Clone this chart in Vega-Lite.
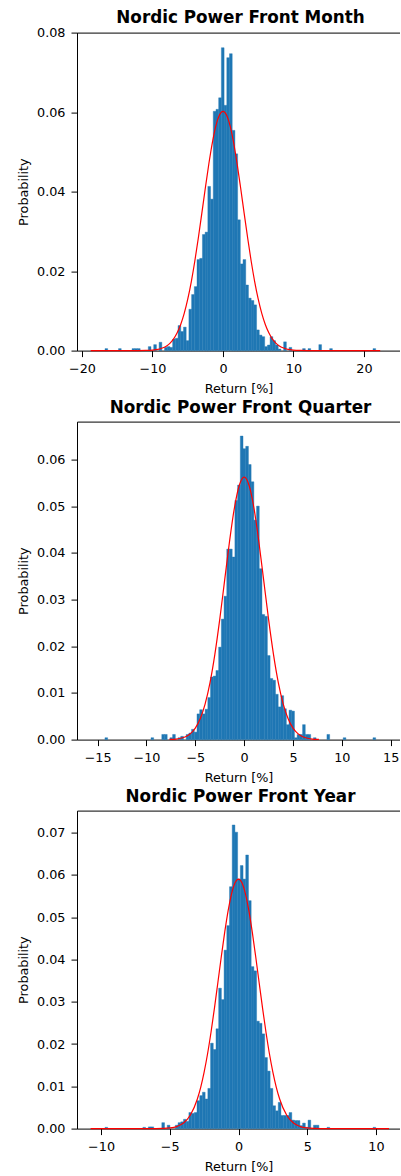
{
  "$schema": "https://vega.github.io/schema/vega-lite/v6.json",
  "padding": {"left": 17, "top": 9.6, "right": 0, "bottom": 0},
  "bounds": "flush",
  "spacing": 71,
  "config": {
    "font": "DejaVu Sans",
    "view": {"stroke": null},
    "title": {"fontSize": 16.8, "fontWeight": "bold", "font": "DejaVu Sans", "color": "black", "anchor": "middle", "frame": "group", "baseline": "alphabetic", "dx": 2},
    "axis": {"grid": false, "labelFont": "DejaVu Sans", "titleFont": "DejaVu Sans", "labelFontSize": 12.8, "titleFontSize": 12.8, "titleFontWeight": "normal", "labelColor": "black", "titleColor": "black", "domainColor": "black", "tickColor": "black", "tickSize": 6, "labelPadding": 6, "domainWidth": 1, "tickWidth": 1, "labelFlush": false, "labelOverlap": false},
    "axisX": {"titlePadding": 7.5},
    "axisY": {"titlePadding": 6}
  },
  "datasets": {
    "h1": [
      {"start": -16.740, "end": -16.356, "p": 0.0005},
      {"start": -14.820, "end": -14.436, "p": 0.0005},
      {"start": -12.900, "end": -12.516, "p": 0.0005},
      {"start": -12.516, "end": -12.132, "p": 0.0005},
      {"start": -12.132, "end": -11.748, "p": 0.0005},
      {"start": -10.596, "end": -10.212, "p": 0.0010},
      {"start": -9.828, "end": -9.444, "p": 0.0015},
      {"start": -9.060, "end": -8.676, "p": 0.0021},
      {"start": -8.292, "end": -7.908, "p": 0.0008},
      {"start": -7.908, "end": -7.524, "p": 0.0010},
      {"start": -7.524, "end": -7.140, "p": 0.0008},
      {"start": -7.140, "end": -6.756, "p": 0.0029},
      {"start": -6.756, "end": -6.372, "p": 0.0031},
      {"start": -6.372, "end": -5.988, "p": 0.0063},
      {"start": -5.988, "end": -5.604, "p": 0.0048},
      {"start": -5.604, "end": -5.220, "p": 0.0059},
      {"start": -5.220, "end": -4.836, "p": 0.0025},
      {"start": -4.836, "end": -4.452, "p": 0.0104},
      {"start": -4.452, "end": -4.068, "p": 0.0141},
      {"start": -4.068, "end": -3.684, "p": 0.0161},
      {"start": -3.684, "end": -3.300, "p": 0.0229},
      {"start": -3.300, "end": -2.916, "p": 0.0232},
      {"start": -2.916, "end": -2.532, "p": 0.0292},
      {"start": -2.532, "end": -2.148, "p": 0.0298},
      {"start": -2.148, "end": -1.764, "p": 0.0413},
      {"start": -1.764, "end": -1.380, "p": 0.0381},
      {"start": -1.380, "end": -0.996, "p": 0.0602},
      {"start": -0.996, "end": -0.612, "p": 0.0607},
      {"start": -0.612, "end": -0.228, "p": 0.0636},
      {"start": -0.228, "end": 0.156, "p": 0.0762},
      {"start": 0.156, "end": 0.540, "p": 0.0617},
      {"start": 0.540, "end": 0.924, "p": 0.0737},
      {"start": 0.924, "end": 1.308, "p": 0.0747},
      {"start": 1.308, "end": 1.692, "p": 0.0554},
      {"start": 1.692, "end": 2.076, "p": 0.0495},
      {"start": 2.076, "end": 2.460, "p": 0.0329},
      {"start": 2.460, "end": 2.844, "p": 0.0218},
      {"start": 2.844, "end": 3.228, "p": 0.0229},
      {"start": 3.228, "end": 3.612, "p": 0.0165},
      {"start": 3.612, "end": 3.996, "p": 0.0132},
      {"start": 3.996, "end": 4.380, "p": 0.0126},
      {"start": 4.380, "end": 4.764, "p": 0.0115},
      {"start": 4.764, "end": 5.148, "p": 0.0052},
      {"start": 5.148, "end": 5.532, "p": 0.0039},
      {"start": 5.532, "end": 5.916, "p": 0.0035},
      {"start": 5.916, "end": 6.300, "p": 0.0010},
      {"start": 6.300, "end": 6.684, "p": 0.0014},
      {"start": 6.684, "end": 7.068, "p": 0.0035},
      {"start": 7.068, "end": 7.452, "p": 0.0025},
      {"start": 7.452, "end": 7.836, "p": 0.0014},
      {"start": 7.836, "end": 8.220, "p": 0.0004},
      {"start": 8.604, "end": 8.988, "p": 0.0022},
      {"start": 9.372, "end": 9.756, "p": 0.0008},
      {"start": 11.292, "end": 11.676, "p": 0.0005},
      {"start": 12.060, "end": 12.444, "p": 0.0005},
      {"start": 13.596, "end": 13.980, "p": 0.0015},
      {"start": 15.132, "end": 15.516, "p": 0.0005},
      {"start": 21.276, "end": 21.660, "p": 0.0005}
    ],
    "c1": [
      {"x": -18.77, "p": 0}, {"x": -14, "p": 0}, {"x": -12, "p": 0.00001}, {"x": -11, "p": 0.00004},
      {"x": -10, "p": 0.00013}, {"x": -9.5, "p": 0.00023}, {"x": -9, "p": 0.00041}, {"x": -8.5, "p": 0.0007},
      {"x": -8, "p": 0.00117}, {"x": -7.5, "p": 0.00189}, {"x": -7, "p": 0.00295}, {"x": -6.5, "p": 0.00447},
      {"x": -6, "p": 0.00656}, {"x": -5.5, "p": 0.00935}, {"x": -5, "p": 0.01292}, {"x": -4.5, "p": 0.01731},
      {"x": -4, "p": 0.02248}, {"x": -3.5, "p": 0.02832}, {"x": -3, "p": 0.03459}, {"x": -2.5, "p": 0.04097},
      {"x": -2, "p": 0.04706}, {"x": -1.5, "p": 0.05241}, {"x": -1, "p": 0.05661}, {"x": -0.5, "p": 0.05928},
      {"x": 0, "p": 0.0602},
      {"x": 0.5, "p": 0.05928}, {"x": 1, "p": 0.05661}, {"x": 1.5, "p": 0.05241}, {"x": 2, "p": 0.04706},
      {"x": 2.5, "p": 0.04097}, {"x": 3, "p": 0.03459}, {"x": 3.5, "p": 0.02832}, {"x": 4, "p": 0.02248},
      {"x": 4.5, "p": 0.01731}, {"x": 5, "p": 0.01292}, {"x": 5.5, "p": 0.00935}, {"x": 6, "p": 0.00656},
      {"x": 6.5, "p": 0.00447}, {"x": 7, "p": 0.00295}, {"x": 7.5, "p": 0.00189}, {"x": 8, "p": 0.00117},
      {"x": 8.5, "p": 0.0007}, {"x": 9, "p": 0.00041}, {"x": 9.5, "p": 0.00023}, {"x": 10, "p": 0.00013},
      {"x": 11, "p": 0.00004}, {"x": 12, "p": 0.00001}, {"x": 14, "p": 0}, {"x": 22.3, "p": 0}
    ],
    "h2": [
      {"start": -14.250, "end": -13.973, "p": 0.0004},
      {"start": -9.539, "end": -9.262, "p": 0.0004},
      {"start": -8.431, "end": -8.154, "p": 0.0011},
      {"start": -8.154, "end": -7.877, "p": 0.0011},
      {"start": -7.600, "end": -7.323, "p": 0.0004},
      {"start": -7.323, "end": -7.045, "p": 0.0011},
      {"start": -6.768, "end": -6.491, "p": 0.0004},
      {"start": -6.491, "end": -6.214, "p": 0.0007},
      {"start": -5.937, "end": -5.660, "p": 0.0011},
      {"start": -5.660, "end": -5.383, "p": 0.0014},
      {"start": -5.383, "end": -5.106, "p": 0.0022},
      {"start": -5.106, "end": -4.829, "p": 0.0016},
      {"start": -4.829, "end": -4.551, "p": 0.0055},
      {"start": -4.551, "end": -4.274, "p": 0.0064},
      {"start": -4.274, "end": -3.997, "p": 0.0055},
      {"start": -3.997, "end": -3.720, "p": 0.0065},
      {"start": -3.720, "end": -3.443, "p": 0.0090},
      {"start": -3.443, "end": -3.166, "p": 0.0134},
      {"start": -3.166, "end": -2.889, "p": 0.0136},
      {"start": -2.889, "end": -2.612, "p": 0.0148},
      {"start": -2.612, "end": -2.335, "p": 0.0198},
      {"start": -2.335, "end": -2.058, "p": 0.0258},
      {"start": -2.058, "end": -1.781, "p": 0.0307},
      {"start": -1.781, "end": -1.503, "p": 0.0408},
      {"start": -1.503, "end": -1.226, "p": 0.0408},
      {"start": -1.226, "end": -0.949, "p": 0.0391},
      {"start": -0.949, "end": -0.672, "p": 0.0512},
      {"start": -0.672, "end": -0.395, "p": 0.0545},
      {"start": -0.395, "end": -0.118, "p": 0.0650},
      {"start": -0.118, "end": 0.159, "p": 0.0623},
      {"start": 0.159, "end": 0.436, "p": 0.0628},
      {"start": 0.436, "end": 0.713, "p": 0.0589},
      {"start": 0.713, "end": 0.991, "p": 0.0552},
      {"start": 0.991, "end": 1.268, "p": 0.0470},
      {"start": 1.268, "end": 1.545, "p": 0.0500},
      {"start": 1.545, "end": 1.822, "p": 0.0366},
      {"start": 1.822, "end": 2.099, "p": 0.0268},
      {"start": 2.099, "end": 2.376, "p": 0.0264},
      {"start": 2.376, "end": 2.653, "p": 0.0180},
      {"start": 2.653, "end": 2.930, "p": 0.0131},
      {"start": 2.930, "end": 3.207, "p": 0.0127},
      {"start": 3.207, "end": 3.484, "p": 0.0097},
      {"start": 3.484, "end": 3.762, "p": 0.0070},
      {"start": 3.762, "end": 4.039, "p": 0.0094},
      {"start": 4.039, "end": 4.316, "p": 0.0066},
      {"start": 4.316, "end": 4.593, "p": 0.0032},
      {"start": 4.593, "end": 4.870, "p": 0.0063},
      {"start": 4.870, "end": 5.147, "p": 0.0061},
      {"start": 5.147, "end": 5.424, "p": 0.0004},
      {"start": 5.424, "end": 5.701, "p": 0.0011},
      {"start": 5.701, "end": 5.978, "p": 0.0011},
      {"start": 5.978, "end": 6.255, "p": 0.0032},
      {"start": 6.255, "end": 6.533, "p": 0.0011},
      {"start": 6.533, "end": 6.810, "p": 0.0011},
      {"start": 7.087, "end": 7.364, "p": 0.0004},
      {"start": 8.472, "end": 8.749, "p": 0.0011},
      {"start": 10.135, "end": 10.412, "p": 0.0004},
      {"start": 13.183, "end": 13.460, "p": 0.0004}
    ],
    "c2": [
      {"x": -7.65, "p": 0.00004}, {"x": -7.5, "p": 0.00005}, {"x": -7, "p": 0.00012}, {"x": -6.5, "p": 0.00029},
      {"x": -6, "p": 0.00062}, {"x": -5.5, "p": 0.00128}, {"x": -5, "p": 0.00247}, {"x": -4.5, "p": 0.00447},
      {"x": -4, "p": 0.00761}, {"x": -3.5, "p": 0.01215}, {"x": -3, "p": 0.01825}, {"x": -2.5, "p": 0.02573},
      {"x": -2, "p": 0.03409}, {"x": -1.5, "p": 0.04242}, {"x": -1, "p": 0.0496}, {"x": -0.5, "p": 0.05447},
      {"x": 0, "p": 0.0562},
      {"x": 0.5, "p": 0.05447}, {"x": 1, "p": 0.0496}, {"x": 1.5, "p": 0.04242}, {"x": 2, "p": 0.03409},
      {"x": 2.5, "p": 0.02573}, {"x": 3, "p": 0.01825}, {"x": 3.5, "p": 0.01215}, {"x": 4, "p": 0.00761},
      {"x": 4.5, "p": 0.00447}, {"x": 5, "p": 0.00247}, {"x": 5.5, "p": 0.00128}, {"x": 6, "p": 0.00062},
      {"x": 6.5, "p": 0.00029}, {"x": 7, "p": 0.00012}, {"x": 7.5, "p": 0.00005}, {"x": 7.65, "p": 0.00004}
    ],
    "h3": [
      {"start": -9.716, "end": -9.519, "p": 0.0003},
      {"start": -6.958, "end": -6.761, "p": 0.0003},
      {"start": -6.564, "end": -6.367, "p": 0.0004},
      {"start": -6.367, "end": -6.170, "p": 0.0004},
      {"start": -5.579, "end": -5.382, "p": 0.0014},
      {"start": -5.185, "end": -4.988, "p": 0.0008},
      {"start": -4.594, "end": -4.397, "p": 0.0008},
      {"start": -4.397, "end": -4.200, "p": 0.0014},
      {"start": -4.200, "end": -4.003, "p": 0.0016},
      {"start": -4.003, "end": -3.806, "p": 0.0022},
      {"start": -3.806, "end": -3.609, "p": 0.0017},
      {"start": -3.609, "end": -3.412, "p": 0.0038},
      {"start": -3.412, "end": -3.215, "p": 0.0036},
      {"start": -3.215, "end": -3.018, "p": 0.0038},
      {"start": -3.018, "end": -2.821, "p": 0.0066},
      {"start": -2.821, "end": -2.624, "p": 0.0078},
      {"start": -2.624, "end": -2.427, "p": 0.0086},
      {"start": -2.427, "end": -2.230, "p": 0.0070},
      {"start": -2.230, "end": -2.033, "p": 0.0095},
      {"start": -2.033, "end": -1.836, "p": 0.0202},
      {"start": -1.836, "end": -1.639, "p": 0.0187},
      {"start": -1.639, "end": -1.442, "p": 0.0236},
      {"start": -1.442, "end": -1.245, "p": 0.0332},
      {"start": -1.245, "end": -1.048, "p": 0.0305},
      {"start": -1.048, "end": -0.851, "p": 0.0422},
      {"start": -0.851, "end": -0.654, "p": 0.0480},
      {"start": -0.654, "end": -0.457, "p": 0.0572},
      {"start": -0.457, "end": -0.260, "p": 0.0718},
      {"start": -0.260, "end": -0.063, "p": 0.0701},
      {"start": -0.063, "end": 0.134, "p": 0.0590},
      {"start": 0.134, "end": 0.331, "p": 0.0622},
      {"start": 0.331, "end": 0.528, "p": 0.0590},
      {"start": 0.528, "end": 0.725, "p": 0.0647},
      {"start": 0.725, "end": 0.922, "p": 0.0539},
      {"start": 0.922, "end": 1.119, "p": 0.0383},
      {"start": 1.119, "end": 1.316, "p": 0.0373},
      {"start": 1.316, "end": 1.513, "p": 0.0254},
      {"start": 1.513, "end": 1.710, "p": 0.0249},
      {"start": 1.710, "end": 1.907, "p": 0.0224},
      {"start": 1.907, "end": 2.104, "p": 0.0168},
      {"start": 2.104, "end": 2.301, "p": 0.0136},
      {"start": 2.301, "end": 2.498, "p": 0.0095},
      {"start": 2.498, "end": 2.695, "p": 0.0054},
      {"start": 2.695, "end": 2.892, "p": 0.0042},
      {"start": 2.892, "end": 3.089, "p": 0.0062},
      {"start": 3.089, "end": 3.286, "p": 0.0031},
      {"start": 3.286, "end": 3.483, "p": 0.0031},
      {"start": 3.483, "end": 3.680, "p": 0.0031},
      {"start": 3.680, "end": 3.877, "p": 0.0038},
      {"start": 3.877, "end": 4.074, "p": 0.0020},
      {"start": 4.074, "end": 4.271, "p": 0.0019},
      {"start": 4.271, "end": 4.468, "p": 0.0019},
      {"start": 4.468, "end": 4.665, "p": 0.0007},
      {"start": 4.665, "end": 4.862, "p": 0.0013},
      {"start": 4.862, "end": 5.059, "p": 0.0003},
      {"start": 5.059, "end": 5.256, "p": 0.0020},
      {"start": 5.453, "end": 5.650, "p": 0.0008},
      {"start": 5.650, "end": 5.847, "p": 0.0008},
      {"start": 6.438, "end": 6.635, "p": 0.0003},
      {"start": 9.787, "end": 9.984, "p": 0.0003}
    ],
    "c3": [
      {"x": -10.76, "p": 0}, {"x": -8, "p": 0}, {"x": -6, "p": 0.00001}, {"x": -5.5, "p": 0.00004},
      {"x": -5, "p": 0.00015}, {"x": -4.5, "p": 0.00048}, {"x": -4, "p": 0.00131}, {"x": -3.5, "p": 0.0032},
      {"x": -3, "p": 0.00694}, {"x": -2.75, "p": 0.00977}, {"x": -2.5, "p": 0.01335}, {"x": -2.25, "p": 0.0177},
      {"x": -2, "p": 0.02279}, {"x": -1.75, "p": 0.02848}, {"x": -1.5, "p": 0.03455}, {"x": -1.25, "p": 0.04069},
      {"x": -1, "p": 0.04651}, {"x": -0.75, "p": 0.05161}, {"x": -0.5, "p": 0.05559}, {"x": -0.25, "p": 0.05813},
      {"x": 0, "p": 0.059},
      {"x": 0.25, "p": 0.05813}, {"x": 0.5, "p": 0.05559}, {"x": 0.75, "p": 0.05161}, {"x": 1, "p": 0.04651},
      {"x": 1.25, "p": 0.04069}, {"x": 1.5, "p": 0.03455}, {"x": 1.75, "p": 0.02848}, {"x": 2, "p": 0.02279},
      {"x": 2.25, "p": 0.0177}, {"x": 2.5, "p": 0.01335}, {"x": 2.75, "p": 0.00977}, {"x": 3, "p": 0.00694},
      {"x": 3.5, "p": 0.0032}, {"x": 4, "p": 0.00131}, {"x": 4.5, "p": 0.00048}, {"x": 5, "p": 0.00015},
      {"x": 5.5, "p": 0.00004}, {"x": 6, "p": 0.00001}, {"x": 8, "p": 0}, {"x": 10.95, "p": 0}
    ]
  },
  "vconcat": [
    {
      "width": 323, "height": 318,
      "title": {"text": "Nordic Power Front Month", "offset": 0},
      "resolve": {"axis": {"x": "independent"}},
      "layer": [
        {
          "data": {"name": "h1"},
          "mark": {"type": "rect", "color": "#1f77b4", "stroke": "#1f77b4", "strokeWidth": 0.4},
          "encoding": {
            "x": {"field": "start", "type": "quantitative", "scale": {"domain": [-20.71, 25.11], "nice": false, "zero": false}, "axis": {"values": [-20, -10, 0, 10, 20], "format": "d", "title": "Return [%]"}},
            "x2": {"field": "end"},
            "y": {"field": "p", "type": "quantitative", "scale": {"domain": [0, 0.08], "nice": false}, "axis": {"values": [0, 0.01, 0.02, 0.03, 0.04, 0.05, 0.06, 0.07, 0.08], "format": ".2f"}, "title": "Probability"},
            "y2": {"datum": 0}
          }
        },
        {
          "data": {"name": "c1"},
          "mark": {"type": "line", "color": "#ff0000", "strokeWidth": 1.2, "interpolate": "monotone"},
          "encoding": {
            "x": {"field": "x", "type": "quantitative", "scale": {"domain": [-20.71, 25.11], "nice": false, "zero": false}, "axis": {"orient": "top", "labels": false, "ticks": false, "domain": true, "title": null}},
            "y": {"field": "p", "type": "quantitative", "scale": {"domain": [0, 0.08], "nice": false}, "title": "Probability"}
          }
        }
      ]
    },
    {
      "width": 323, "height": 318,
      "title": {"text": "Nordic Power Front Quarter", "offset": 5},
      "resolve": {"axis": {"x": "independent"}},
      "layer": [
        {
          "data": {"name": "h2"},
          "mark": {"type": "rect", "color": "#1f77b4", "stroke": "#1f77b4", "strokeWidth": 0.4},
          "encoding": {
            "x": {"field": "start", "type": "quantitative", "scale": {"domain": [-17.11, 15.95], "nice": false, "zero": false}, "axis": {"values": [-15, -10, -5, 0, 5, 10, 15], "format": "d", "title": "Return [%]"}},
            "x2": {"field": "end"},
            "y": {"field": "p", "type": "quantitative", "scale": {"domain": [0, 0.0681], "nice": false}, "axis": {"values": [0, 0.01, 0.02, 0.03, 0.04, 0.05, 0.06], "format": ".2f"}, "title": "Probability"},
            "y2": {"datum": 0}
          }
        },
        {
          "data": {"name": "c2"},
          "mark": {"type": "line", "color": "#ff0000", "strokeWidth": 1.2, "interpolate": "monotone"},
          "encoding": {
            "x": {"field": "x", "type": "quantitative", "scale": {"domain": [-17.11, 15.95], "nice": false, "zero": false}, "axis": {"orient": "top", "labels": false, "ticks": false, "domain": true, "title": null}},
            "y": {"field": "p", "type": "quantitative", "scale": {"domain": [0, 0.0681], "nice": false}, "title": "Probability"}
          }
        }
      ]
    },
    {
      "width": 323, "height": 318,
      "title": {"text": "Nordic Power Front Year", "offset": 5},
      "resolve": {"axis": {"x": "independent"}},
      "layer": [
        {
          "data": {"name": "h3"},
          "mark": {"type": "rect", "color": "#1f77b4", "stroke": "#1f77b4", "strokeWidth": 0.4},
          "encoding": {
            "x": {"field": "start", "type": "quantitative", "scale": {"domain": [-11.75, 11.75], "nice": false, "zero": false}, "axis": {"values": [-10, -5, 0, 5, 10], "format": "d", "title": "Return [%]"}},
            "x2": {"field": "end"},
            "y": {"field": "p", "type": "quantitative", "scale": {"domain": [0, 0.0752], "nice": false}, "axis": {"values": [0, 0.01, 0.02, 0.03, 0.04, 0.05, 0.06, 0.07], "format": ".2f"}, "title": "Probability"},
            "y2": {"datum": 0}
          }
        },
        {
          "data": {"name": "c3"},
          "mark": {"type": "line", "color": "#ff0000", "strokeWidth": 1.2, "interpolate": "monotone"},
          "encoding": {
            "x": {"field": "x", "type": "quantitative", "scale": {"domain": [-11.75, 11.75], "nice": false, "zero": false}, "axis": {"orient": "top", "labels": false, "ticks": false, "domain": true, "title": null}},
            "y": {"field": "p", "type": "quantitative", "scale": {"domain": [0, 0.0752], "nice": false}, "title": "Probability"}
          }
        }
      ]
    }
  ]
}
